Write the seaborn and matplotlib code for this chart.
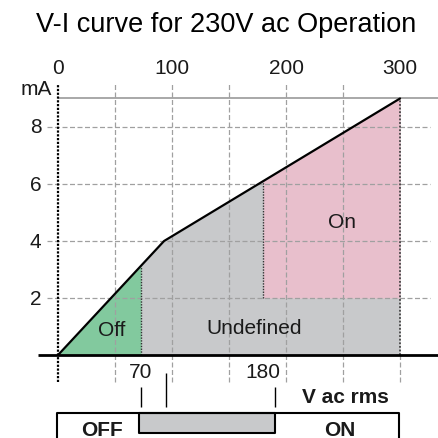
# V-I curve for 230V ac operation, drawn on one full-figure axes

import numpy as np
import pandas as pd
import matplotlib
matplotlib.use("Agg")
import matplotlib.pyplot as plt
import seaborn as sns

# curve vertices (V ac rms, mA)
curve_v = [0, 93, 300]
curve_ma = [0, 4, 9]

# region limits
off_end_v = 73          # end of the green "Off" zone (labelled 70)
on_start_v = 180        # start of the "On" zone
on_min_ma = 2           # lower edge of the "On" zone
v_max = 300

top_ticks = [0, 100, 200, 300]
y_ticks = [2, 4, 6, 8]
grid_v = [50, 100, 150, 200, 250, 300]
bottom_labels = ["70", "180"]
bottom_label_v = [72, 180]
marker_v = [73, 95, 190]         # small vertical marks above the state bar
undef_bar = [71, 190]            # grey part of the OFF/ON bar

green = "#82c99e"
pink = "#e8bfcc"
grey = "#c8c9cb"

sns.set_style("white")
plt.rcParams["font.family"] = ["Liberation Sans", "DejaVu Sans"]
plt.rcParams["text.color"] = "#1a1a1a"

fig = plt.figure(figsize=(4.38, 4.39), dpi=100)
ax = fig.add_axes([0, 0, 1, 1])
# pixel -> data: x = (px - 58) / 1.14, y = (356 - py) / 28.5
ax.set_xlim(-50.9, 333.3)
ax.set_ylim(-2.91, 12.49)
ax.set_axis_off()

def curve_at(v):
    return np.interp(v, curve_v, curve_ma)

# coloured zones
v = np.linspace(0, off_end_v, 50)
ax.fill_between(v, 0, curve_at(v), color=green, lw=0, zorder=1)
v = np.linspace(off_end_v, v_max, 200)
ax.fill_between(v, 0, curve_at(v), color=grey, lw=0, zorder=1)
v = np.linspace(on_start_v, v_max, 100)
ax.fill_between(v, on_min_ma, curve_at(v), color=pink, lw=0, zorder=1)

# grid
grid_kw = dict(color="#a0a0a0", lw=0.9, linestyles=(0, (4, 2)), zorder=2)
ax.hlines(y_ticks, -9.6, 326, **grid_kw)
ax.vlines(grid_v[:-1], -0.95, 9.5, **grid_kw)
ax.vlines(v_max, -0.95, 0, **grid_kw)
ax.hlines(9, 0, 340, color="#9a9a9a", lw=1.2, zorder=2)

# zone borders and axes
ax.vlines([off_end_v, on_start_v], [0, on_min_ma], [curve_at(off_end_v), curve_at(on_start_v)],
          color="#333333", lw=1, linestyles=(0, (1, 1)), zorder=3)
ax.vlines(v_max, 0, 9, color="#444444", lw=1.3, linestyles=(0, (1, 1)), zorder=3)
ax.vlines(0, -0.95, 9.5, color="black", lw=1.6, linestyles=(0, (1, 0.7)), zorder=4)
ax.hlines(0, -17.5, 340, color="black", lw=2, zorder=4)

# the curve
df = pd.DataFrame({"V": curve_v, "mA": curve_ma})
sns.lineplot(data=df, x="V", y="mA", color="black", lw=1.6, ax=ax, zorder=5)
ax.set_xlim(-50.9, 333.3)
ax.set_ylim(-2.91, 12.49)
ax.set_axis_off()

# tick labels
fs = 15
for t in top_ticks:
    ax.text(t, 10.1, str(t), ha="center", va="center", fontsize=fs)
for t in y_ticks:
    ax.text(-14.5, t, str(t), ha="right", va="center", fontsize=fs)
ax.text(-5, 9.35, "mA", ha="right", va="center", fontsize=fs)
for lab, pos in zip(bottom_labels, bottom_label_v):
    ax.text(pos, -0.56, lab, ha="center", va="center", fontsize=fs)

# zone names
ax.text(47.4, 0.91, "Off", ha="center", va="center", fontsize=fs)
ax.text(172, 0.98, "Undefined", ha="center", va="center", fontsize=fs)
ax.text(249, 4.67, "On", ha="center", va="center", fontsize=fs)
ax.text(252, -1.44, "V ac rms", ha="center", va="center", fontsize=fs, fontweight="bold")

# state bar
ax.vlines(marker_v, [-1.12, -0.63, -1.12], -1.82, color="black", lw=1)
ax.plot([-1, -1, 299, 299], [-3.5, -2.04, -2.04, -3.5], color="black", lw=1.5)
ax.fill_between(undef_bar, -2.74, -2.04, color=grey, edgecolor="black", lw=1.5)
ax.text(38.6, -2.6, "OFF", ha="center", va="center", fontsize=fs, fontweight="bold")
ax.text(247, -2.6, "ON", ha="center", va="center", fontsize=fs, fontweight="bold")

fig.text(0.516, 0.942, "V-I curve for 230V ac Operation", ha="center", va="center",
         fontsize=19.5, color="black")

fig.savefig("out.png", dpi=100)
